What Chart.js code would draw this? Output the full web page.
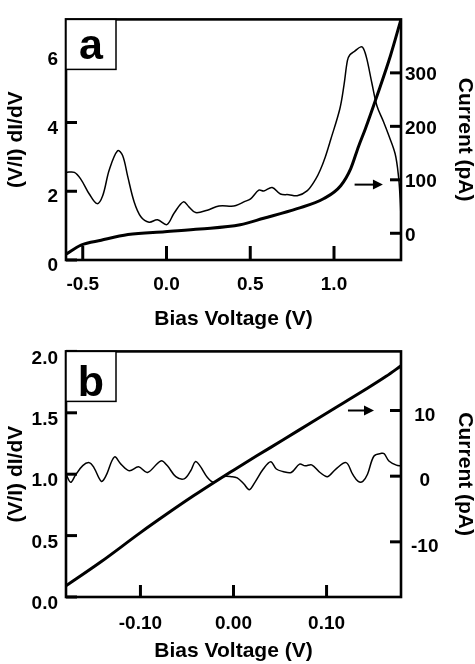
<!DOCTYPE html>
<html><head><meta charset="utf-8">
<script src="https://cdn.jsdelivr.net/npm/chart.js@4/dist/chart.umd.min.js"></script>
<style>
html,body{margin:0;padding:0;background:#fff;overflow:hidden;}
#wa{position:absolute;left:0;top:0;width:475px;height:330px;}
#wb{position:absolute;left:0;top:330px;width:475px;height:334px;}
</style></head><body>
<div id="wa"><canvas id="ca"></canvas></div>
<div id="wb"><canvas id="cb"></canvas></div>
<script>
// ---------- Panel a data ----------
const aDidvVolt = [-0.6,-0.55,-0.51,-0.461,-0.415,-0.381,-0.342,-0.292,-0.262,-0.232,-0.193,-0.153,-0.104,-0.054,0.002,0.045,0.101,0.135,0.174,0.244,0.313,0.402,0.442,0.462,0.502,0.551,0.581,0.631,0.68,0.73,0.78,0.839,0.889,0.918,0.948,0.98,1.035,1.06,1.08,1.095,1.124,1.16,1.176,1.196,1.226,1.256,1.295,1.325,1.365,1.385,1.395,1.4];
const aDidv     = [2.55,2.55,2.34,1.92,1.64,1.87,2.62,3.18,3.04,2.44,1.69,1.26,1.10,1.17,1.03,1.36,1.69,1.54,1.38,1.45,1.57,1.57,1.64,1.69,1.78,2.03,2.01,2.11,1.92,1.90,1.87,2.01,2.34,2.62,3.0,3.5,4.4,5.1,5.8,5.97,6.08,6.2,6.15,5.85,5.15,4.49,4.03,3.65,3.09,2.44,1.78,1.22];
const aCurrVolt = [-0.6,-0.51,-0.39,-0.23,-0.01,0.2,0.44,0.58,0.78,0.94,1.04,1.1,1.146,1.188,1.26,1.337,1.4];
const aCurrent  = [-39,-22,-13,-2.5,3,8,16,28,46,65,89,121,162,196,260,332,400];
const aXTicks = [-0.5,0.0,0.5,1.0];
const aLeftTicks = [0,2,4,6];
const aRightTicks = [0,100,200,300];
const aArrow = {x0:1.123, x1:1.292, y:91};

// ---------- Panel b data ----------
const bDidvVolt = [-0.18,-0.175,-0.17,-0.162,-0.155,-0.15,-0.142,-0.137,-0.128,-0.121,-0.112,-0.102,-0.0925,-0.078,-0.071,-0.062,-0.053,-0.046,-0.041,-0.036,-0.028,-0.021,-0.011,-0.002,0.004,0.011,0.017,0.023,0.032,0.04,0.046,0.053,0.062,0.071,0.077,0.084,0.093,0.101,0.11,0.121,0.128,0.134,0.139,0.144,0.151,0.159,0.162,0.167,0.175,0.18];
const bDidv     = [1.0,0.934,0.99,1.07,1.094,1.054,0.942,0.988,1.14,1.082,1.028,1.06,1.014,1.108,1.068,0.98,0.962,1.028,1.102,1.068,0.974,0.934,0.98,0.98,0.97,0.922,0.874,0.934,1.042,1.102,1.042,1.022,1.014,1.082,1.068,1.076,1.014,0.98,1.042,1.094,1.0,0.942,0.942,1.0,1.148,1.17,1.166,1.108,1.074,1.068];
const bCurrVolt = [-0.18,-0.142,-0.1,-0.071,-0.043,-0.018,0,0.025,0.053,0.085,0.114,0.143,0.164,0.18];
const bCurrent  = [-16.7,-13.0,-8.6,-5.7,-3.0,-0.7,0.9,3.1,5.5,8.3,10.8,13.3,15.2,16.8];
const bXTicks = [-0.10,0.00,0.10];
const bLeftTicks = [0,0.5,1.0,1.5,2.0];
const bRightTicks = [-10,0,10];
const bArrow = {x0:0.123, x1:0.151, y:10};

Chart.defaults.font.family = '"Liberation Sans", Arial, Helvetica, sans-serif';
Chart.defaults.color = '#000';

const pts = (xs, ys) => xs.map((x, i) => ({x, y: ys[i]}));

const framePlugin = {
  id: 'frame',
  afterDraw(chart, args, o) {
    const {ctx, chartArea: a, scales} = chart;
    ctx.save();
    ctx.strokeStyle = '#000';
    ctx.fillStyle = '#000';
    ctx.lineCap = 'butt';
    const seg = (x0, y0, x1, y1) => { ctx.beginPath(); ctx.moveTo(x0, y0); ctx.lineTo(x1, y1); ctx.stroke(); };
    // inward tick marks
    ctx.lineWidth = 3;
    scales.x.ticks.forEach(t => { const p = scales.x.getPixelForValue(t.value); seg(p, a.bottom, p, a.bottom - o.xTick); });
    scales.yL.ticks.forEach(t => { const p = scales.yL.getPixelForValue(t.value); seg(a.left, p, a.left + o.yTick, p); });
    scales.yR.ticks.forEach(t => { const p = scales.yR.getPixelForValue(t.value); seg(a.right, p, a.right - o.yTick, p); });
    // frame
    ctx.lineWidth = 2.6;
    ctx.strokeRect(a.left, a.top, a.right - a.left, a.bottom - a.top);
    // label box
    ctx.fillStyle = '#fff';
    ctx.fillRect(a.left, a.top, 50, 50);
    ctx.lineWidth = 1.5;
    ctx.strokeRect(a.left, a.top, 50, 50);
    ctx.fillStyle = '#000';
    ctx.font = 'bold 43px "Liberation Sans", Arial, sans-serif';
    ctx.textAlign = 'center';
    ctx.textBaseline = 'alphabetic';
    ctx.fillText(o.letter, a.left + 25, a.top + o.letterBase);
    // arrow pointing to current axis
    const ar = o.arrow;
    const x0 = scales.x.getPixelForValue(ar.x0), x1 = scales.x.getPixelForValue(ar.x1);
    const y = scales.yR.getPixelForValue(ar.y);
    ctx.lineWidth = 2;
    seg(x0, y, x1 - 8, y);
    ctx.beginPath(); ctx.moveTo(x1, y); ctx.lineTo(x1 - 10, y - 5); ctx.lineTo(x1 - 10, y + 5); ctx.closePath(); ctx.fill();
    ctx.restore();
  }
};

function axis(extra) {
  return Object.assign({
    type: 'linear',
    grid: {display: false, drawTicks: false},
    border: {display: false},
  }, extra);
}

function makeChart(id, p) {
  return new Chart(document.getElementById(id), {
    type: 'line',
    data: {
      datasets: [
        {data: pts(p.didvV, p.didv), yAxisID: 'yL', borderColor: '#000', borderWidth: 1.5, pointRadius: 0, tension: 0.35, fill: false},
        {data: pts(p.curV, p.cur), yAxisID: 'yR', borderColor: '#000', borderWidth: 3, pointRadius: 0, cubicInterpolationMode: 'monotone', fill: false}
      ]
    },
    options: {
      responsive: true, maintainAspectRatio: false, animation: false, devicePixelRatio: 1,
      layout: {padding: {top: p.padTop, left: 0, right: 0, bottom: 0}},
      plugins: {legend: {display: false}, tooltip: {enabled: false},
        frame: {letter: p.letter, letterBase: p.letterBase, arrow: p.arrow, xTick: p.xTick, yTick: 11}},
      scales: {
        x: axis({position: 'bottom', min: p.xMin, max: p.xMax,
          afterBuildTicks: s => { s.ticks = p.xTicks.map(v => ({value: v})); },
          afterFit: s => { s.height = p.xHeight; },
          ticks: {font: {size: 19, weight: 'bold'}, padding: p.xPad, maxRotation: 0, autoSkip: false, callback: v => v.toFixed(p.xDec)},
          title: {display: true, text: 'Bias Voltage (V)', font: {size: 21, weight: 'bold', lineHeight: 1}, padding: {top: 0, bottom: p.titlePadB}}
        }),
        yL: axis({position: 'left', min: p.lMin, max: p.lMax,
          afterBuildTicks: s => { s.ticks = p.lTicks.map(v => ({value: v})); },
          afterFit: s => { s.width = 66; },
          ticks: {font: {size: 19, weight: 'bold'}, padding: 8, labelOffset: p.lOff, autoSkip: false, callback: v => v.toFixed(p.lDec)},
          title: {display: true, text: '(V/I) dI/dV', font: {size: 21, weight: 'bold', lineHeight: 1}, padding: {top: 6, bottom: 0}}
        }),
        yR: axis({position: 'right', min: p.rMin, max: p.rMax,
          afterBuildTicks: s => { s.ticks = p.rTicks.map(v => ({value: v})); },
          afterFit: s => { s.width = 74; },
          ticks: {font: {size: 19, weight: 'bold'}, padding: p.rPad, labelOffset: p.rOff, crossAlign: p.rAlign, autoSkip: false, callback: v => String(v)},
          title: {display: true, text: 'Current (pA)', font: {size: 21, weight: 'bold', lineHeight: 1}, padding: {top: 0, bottom: 0}}
        })
      }
    },
    plugins: [framePlugin]
  });
}

makeChart('ca', {
  didvV: aDidvVolt, didv: aDidv, curV: aCurrVolt, cur: aCurrent,
  xMin: -0.6, xMax: 1.4, xTicks: aXTicks, xDec: 1, xHeight: 70, xPad: 13, titlePadB: 0,
  lMin: 0, lMax: 7, lTicks: aLeftTicks, lDec: 0, lOff: 6,
  rMin: -50, rMax: 400, rTicks: aRightTicks, rPad: 4, rOff: 2, rAlign: 'near',
  padTop: 12, letter: 'a', letterBase: 40, arrow: aArrow, xTick: 14
});
makeChart('cb', {
  didvV: bDidvVolt, didv: bDidv, curV: bCurrVolt, cur: bCurrent,
  xMin: -0.18, xMax: 0.18, xTicks: bXTicks, xDec: 2, xHeight: 67, xPad: 15, titlePadB: 2,
  lMin: 0, lMax: 2, lTicks: bLeftTicks, lDec: 1, lOff: 7,
  rMin: -18.4, rMax: 19, rTicks: bRightTicks, rPad: 10, rOff: 5, rAlign: 'center',
  padTop: 19, letter: 'b', letterBase: 45, arrow: bArrow, xTick: 12
});
</script>
</body></html>
